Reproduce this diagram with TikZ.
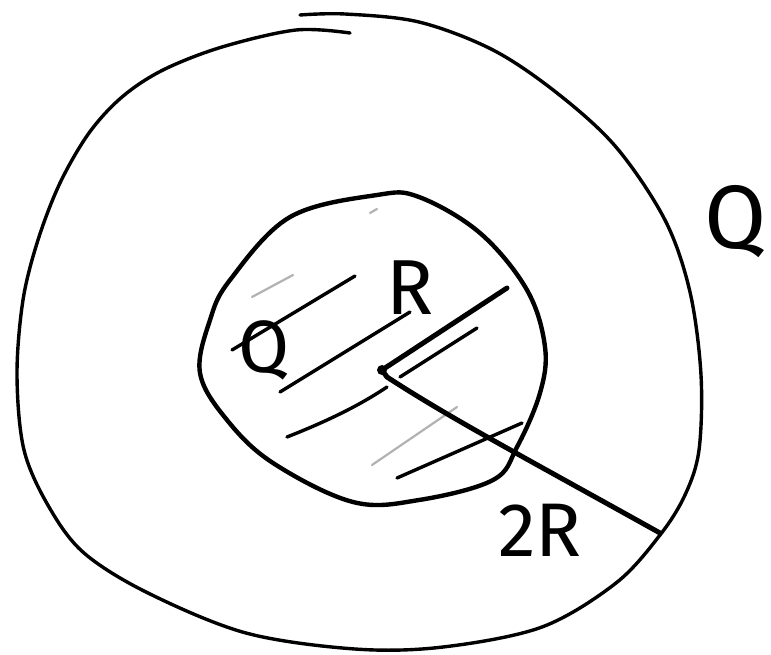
\documentclass[tikz,border=0pt]{standalone}
\usepackage{fontspec}
\newfontfamily\hand{Fira Sans}
\begin{document}
\begin{tikzpicture}[x=1pt,y=-1pt,
  pen/.style={line cap=round,line join=round,black},
  outerline/.style={pen,line width=3.4pt},
  innerline/.style={pen,line width=4.4pt},
  radline/.style={pen,line width=5pt},
  hatch/.style={pen,line width=3.4pt},
  faint/.style={pen,line width=2.2pt,black!30},
  lbl/.style={inner sep=0pt,anchor=center,font=\hand}]
\useasboundingbox (0,0) rectangle (771,654);
\fill[white] (0,0) rectangle (771,654);
% outer sphere (open stroke, overlapping at top)
\draw[outerline] plot[smooth,tension=0.55] coordinates {
 (300,15) (345,14) (419,22) (493,50) (557,93) (616,147) (665,220) (690,292)
 (701,375) (699,450) (685,495) (660,535) (616,583) (542,627) (443,647)
 (355,649) (246,633) (148,593) (84,553) (49,507) (24,450) (17,375)
 (23,300) (38,240) (60,183) (89,133) (122,97) (163,70) (222,47) (296,30) (350,33)};
% inner sphere
\draw[innerline] plot[smooth cycle,tension=0.6] coordinates {
 (377,195) (419,197) (480,233) (527,290) (545,347) (540,393) (517,447)
 (493,480) (419,500) (353,502) (273,463) (227,420) (200,373) (210,320)
 (230,280) (290,217)};
% hatching
\draw[hatch] (232,350) -- (355,276);
\draw[hatch] (280,392) -- (410,312);
\draw[hatch] (287,437) .. controls (330,420) and (360,405) .. (387,387);
\draw[hatch] (397,478) -- (522,423);
\draw[hatch] (400,377) -- (477,328);
\draw[faint] (372,465) -- (457,407);
\draw[faint] (252,297) -- (293,275);
\draw[faint] (370,213) -- (377,209);
% radii
\coordinate (O) at (382,370);
\coordinate (Rend) at (507,288);
\coordinate (Oc) at (387,377);
\coordinate (Send) at (660,533);
\fill (O) circle (5pt);
\draw[radline] (Rend) -- (O) -- (Oc);
\draw[radline] (Oc) .. controls (450,418) and (520,455) .. (Send);
% labels
\node[lbl,font=\hand\fontsize{74}{74}\selectfont] (qin) at (264,350) {Q};
\node[lbl,font=\hand\fontsize{78}{78}\selectfont] (rlab) at (410,288) {R};
\node[lbl,font=\hand\fontsize{90}{90}\selectfont] (qout) at (736,222) {Q};
\node[lbl,font=\hand\fontsize{76}{76}\selectfont] (tworlab) at (540,530) {2R};
\end{tikzpicture}
\end{document}
